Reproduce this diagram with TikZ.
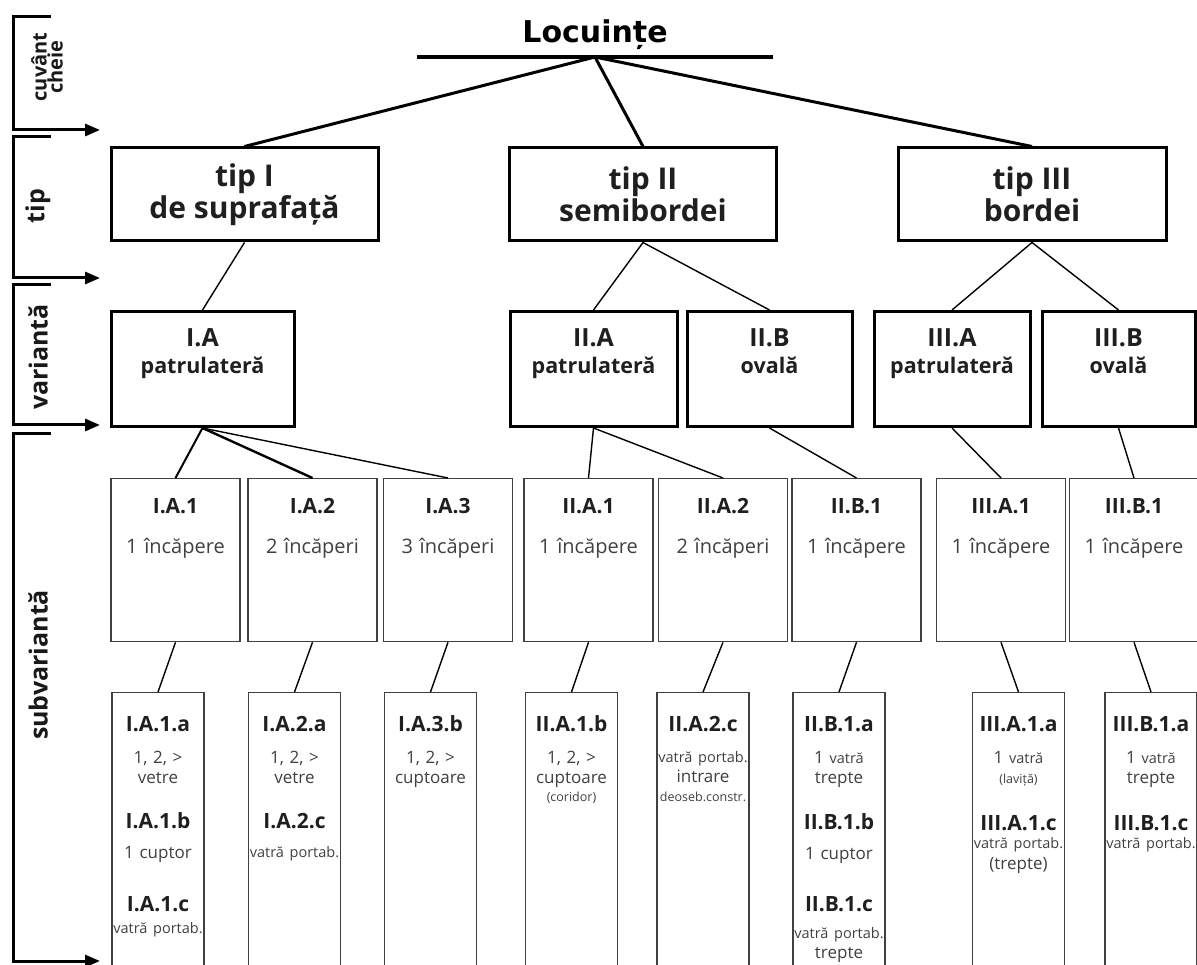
\documentclass[tikz,border=0pt]{standalone}
\usepackage{fontspec}
\setmainfont{Open Sans}
\newfontfamily\titlefont{DejaVu Sans}
\usetikzlibrary{arrows.meta}
\newcommand{\subid}[1]{{\fontsize{21}{21}\selectfont\bfseries\color{black!88}#1}}
\newcommand{\smalltxt}[1]{{\fontsize{14.5}{15}\selectfont #1}}
\newcommand{\tinytxt}[1]{{\fontsize{12.5}{13}\selectfont #1}}

\begin{document}
\begin{tikzpicture}[x=1pt,y=-1pt,
			tipbox/.style={rectangle, draw, line width=3pt, minimum width=267, minimum height=93,
				align=center, text=black!88, font=\fontsize{30}{32}\selectfont\bfseries},
			varbox/.style={rectangle, draw, line width=3pt, anchor=north, inner sep=0pt,
				text height=35pt, text depth=80pt, align=center, text=black!88,
				font=\fontsize{21.5}{27}\selectfont\bfseries},
			onebox/.style={rectangle, draw=black!75, line width=1.3pt, anchor=north, inner sep=0pt,
				text width=129, text height=34.5pt, text depth=128.5pt, align=center, text=black!75,
				font=\fontsize{20}{20}\selectfont},
			twobox/.style={rectangle, draw=black!75, line width=1.3pt, anchor=north, inner sep=0pt,
				text width=92, text height=39pt, text depth=300pt, align=center, text=black!75,
				font=\fontsize{17}{20}\selectfont},
			side/.style={rotate=90, text=black!90, font=\fontsize{25}{25}\selectfont\bfseries},
			bracket/.style={line width=3pt, -{Triangle[length=15pt,width=12pt]}},
			trunk/.style={line width=3pt},
			twig/.style={line width=1.4pt}
			]
			\useasboundingbox (0,0) rectangle (1197,965);
			\clip (0,0) rectangle (1197,965);
			
			\node[side, align=center, font=\fontsize{20}{16}\selectfont\bfseries] (kw) at (47,67) {cuvânt\\cheie};
			\node[side] (lt) at (38,206) {tip};
			\node[side] (lv) at (38,357) {variantă};
			\node[side] (ls) at (38,665) {subvariantă};
			\foreach \t/\b in {17/130,137/278,285/425,434/961}
			\draw[bracket] (51,\t) -- (13,\t) -- (13,\b) -- (100,\b);
			
			\node[anchor=south, inner sep=0pt, minimum width=356, text depth=14pt,
			font=\titlefont\fontsize{30}{30}\selectfont\bfseries] (root) at (595,57) {Locuințe};
			\draw[line width=4.5pt] (root.south west) -- (root.south east);
			
			\node[tipbox] (tI) at (244.5,194.5) {tip I\\de suprafață};
			\node[tipbox] (tII) at (643,194.5) {tip II\\semibordei};
			\node[tipbox, minimum width=268] (tIII) at (1032,194.5) {tip III\\bordei};
			
			\node[varbox, text width=183] (IA) at (202.5,310) {{\fontsize{25}{25}\selectfont I.A}\\patrulateră};
			\node[varbox, text width=167] (IIA) at (593.5,310) {{\fontsize{25}{25}\selectfont II.A}\\patrulateră};
			\node[varbox, text width=165] (IIB) at (769.5,310) {{\fontsize{25}{25}\selectfont II.B}\\ovală};
			\node[varbox, text width=156] (IIIA) at (952,310) {{\fontsize{25}{25}\selectfont III.A}\\patrulateră};
			\node[varbox, text width=153] (IIIB) at (1118.5,310) {{\fontsize{25}{25}\selectfont III.B}\\ovală};
			
			\node[onebox] (IA1) at (175.5,478) {\subid{I.A.1}\\[20.5pt]1 încăpere};
			\node[onebox] (IA2) at (312.5,478) {\subid{I.A.2}\\[20.5pt]2 încăperi};
			\node[onebox] (IA3) at (448,478) {\subid{I.A.3}\\[20.5pt]3 încăperi};
			\node[onebox] (IIA1) at (588.5,478) {\subid{II.A.1}\\[20.5pt]1 încăpere};
			\node[onebox] (IIA2) at (723,478) {\subid{II.A.2}\\[20.5pt]2 încăperi};
			\node[onebox] (IIB1) at (856.5,478) {\subid{II.B.1}\\[20.5pt]1 încăpere};
			\node[onebox] (IIIA1) at (1001,478) {\subid{III.A.1}\\[20.5pt]1 încăpere};
			\node[onebox] (IIIB1) at (1134,478) {\subid{III.B.1}\\[20.5pt]1 încăpere};
			
			\node[twobox] (IA1a) at (158,692) {\subid{I.A.1.a}\\[12pt]1, 2, >\\vetre\\[25pt]\subid{I.A.1.b}\\[10pt]1 cuptor\\[33pt]\subid{I.A.1.c}\\[2pt]\smalltxt{vatră portab.}};
			\node[twobox] (IA2a) at (294.5,692) {\subid{I.A.2.a}\\[12pt]1, 2, >\\vetre\\[25pt]\subid{I.A.2.c}\\[9pt]\smalltxt{vatră portab.}};
			\node[twobox] (IA3b) at (430.5,692) {\subid{I.A.3.b}\\[12pt]1, 2, >\\cuptoare};
			\node[twobox] (IIA1b) at (571.5,692) {\subid{II.A.1.b}\\[12pt]1, 2, >\\cuptoare\\[-2pt]\tinytxt{(coridor)}};
			\node[twobox] (IIA2c) at (703,692) {\subid{II.A.2.c}\\[11pt]\smalltxt{vatră portab.}\\intrare\\[-1pt]\tinytxt{deoseb.constr.}};
			\node[twobox] (IIB1a) at (839,692) {\subid{II.B.1.a}\\[12pt]1 \smalltxt{vatră}\\trepte\\[25pt]\subid{II.B.1.b}\\[10pt]1 cuptor\\[32pt]\subid{II.B.1.c}\\[7pt]\smalltxt{vatră portab.}\\trepte};
			\node[twobox] (IIIA1a) at (1018.5,692) {\subid{III.A.1.a}\\[12pt]1 \smalltxt{vatră}\\ \tinytxt{(laviță)}\\[27pt]\subid{III.A.1.c}\\[-2pt]\smalltxt{vatră portab.}\\[1pt](trepte)};
			\node[twobox] (IIIB1a) at (1151,692) {\subid{III.B.1.a}\\[12pt]1 \smalltxt{vatră}\\trepte\\[27pt]\subid{III.B.1.c}\\[-2pt]\smalltxt{vatră portab.}};
			
			\draw[trunk] (root.south) -- (tI.north);
			\draw[trunk] (root.south) -- (tII.north);
			\draw[trunk] (root.south) -- (tIII.north);
			
			\draw[twig] (tI.south) -- (IA.north);
			\draw[twig] (tII.south) -- (IIA.north);
			\draw[twig] (tII.south) -- (IIB.north);
			\draw[twig] (tIII.south) -- (IIIA.north);
			\draw[twig] (tIII.south) -- (IIIB.north);
			
			\draw[twig, line width=2pt] (IA.south) -- (IA1.north);
			\draw[twig, line width=2.4pt] (IA.south) -- (IA2.north);
			\draw[twig] (IA.south) -- (IA3.north);
			\draw[twig] (IIA.south) -- (IIA1.north);
			\draw[twig] (IIA.south) -- (IIA2.north);
			\draw[twig] (IIB.south) -- (IIB1.north);
			\draw[twig] (IIIA.south) -- (IIIA1.north);
			\draw[twig] (IIIB.south) -- (IIIB1.north);
			
			\draw[twig] (IA1.south) -- (IA1a.north);
			\draw[twig] (IA2.south) -- (IA2a.north);
			\draw[twig] (IA3.south) -- (IA3b.north);
			\draw[twig] (IIA1.south) -- (IIA1b.north);
			\draw[twig] (IIA2.south) -- (IIA2c.north);
			\draw[twig] (IIB1.south) -- (IIB1a.north);
			\draw[twig] (IIIA1.south) -- (IIIA1a.north);
			\draw[twig] (IIIB1.south) -- (IIIB1a.north);
		\end{tikzpicture}
\end{document}
